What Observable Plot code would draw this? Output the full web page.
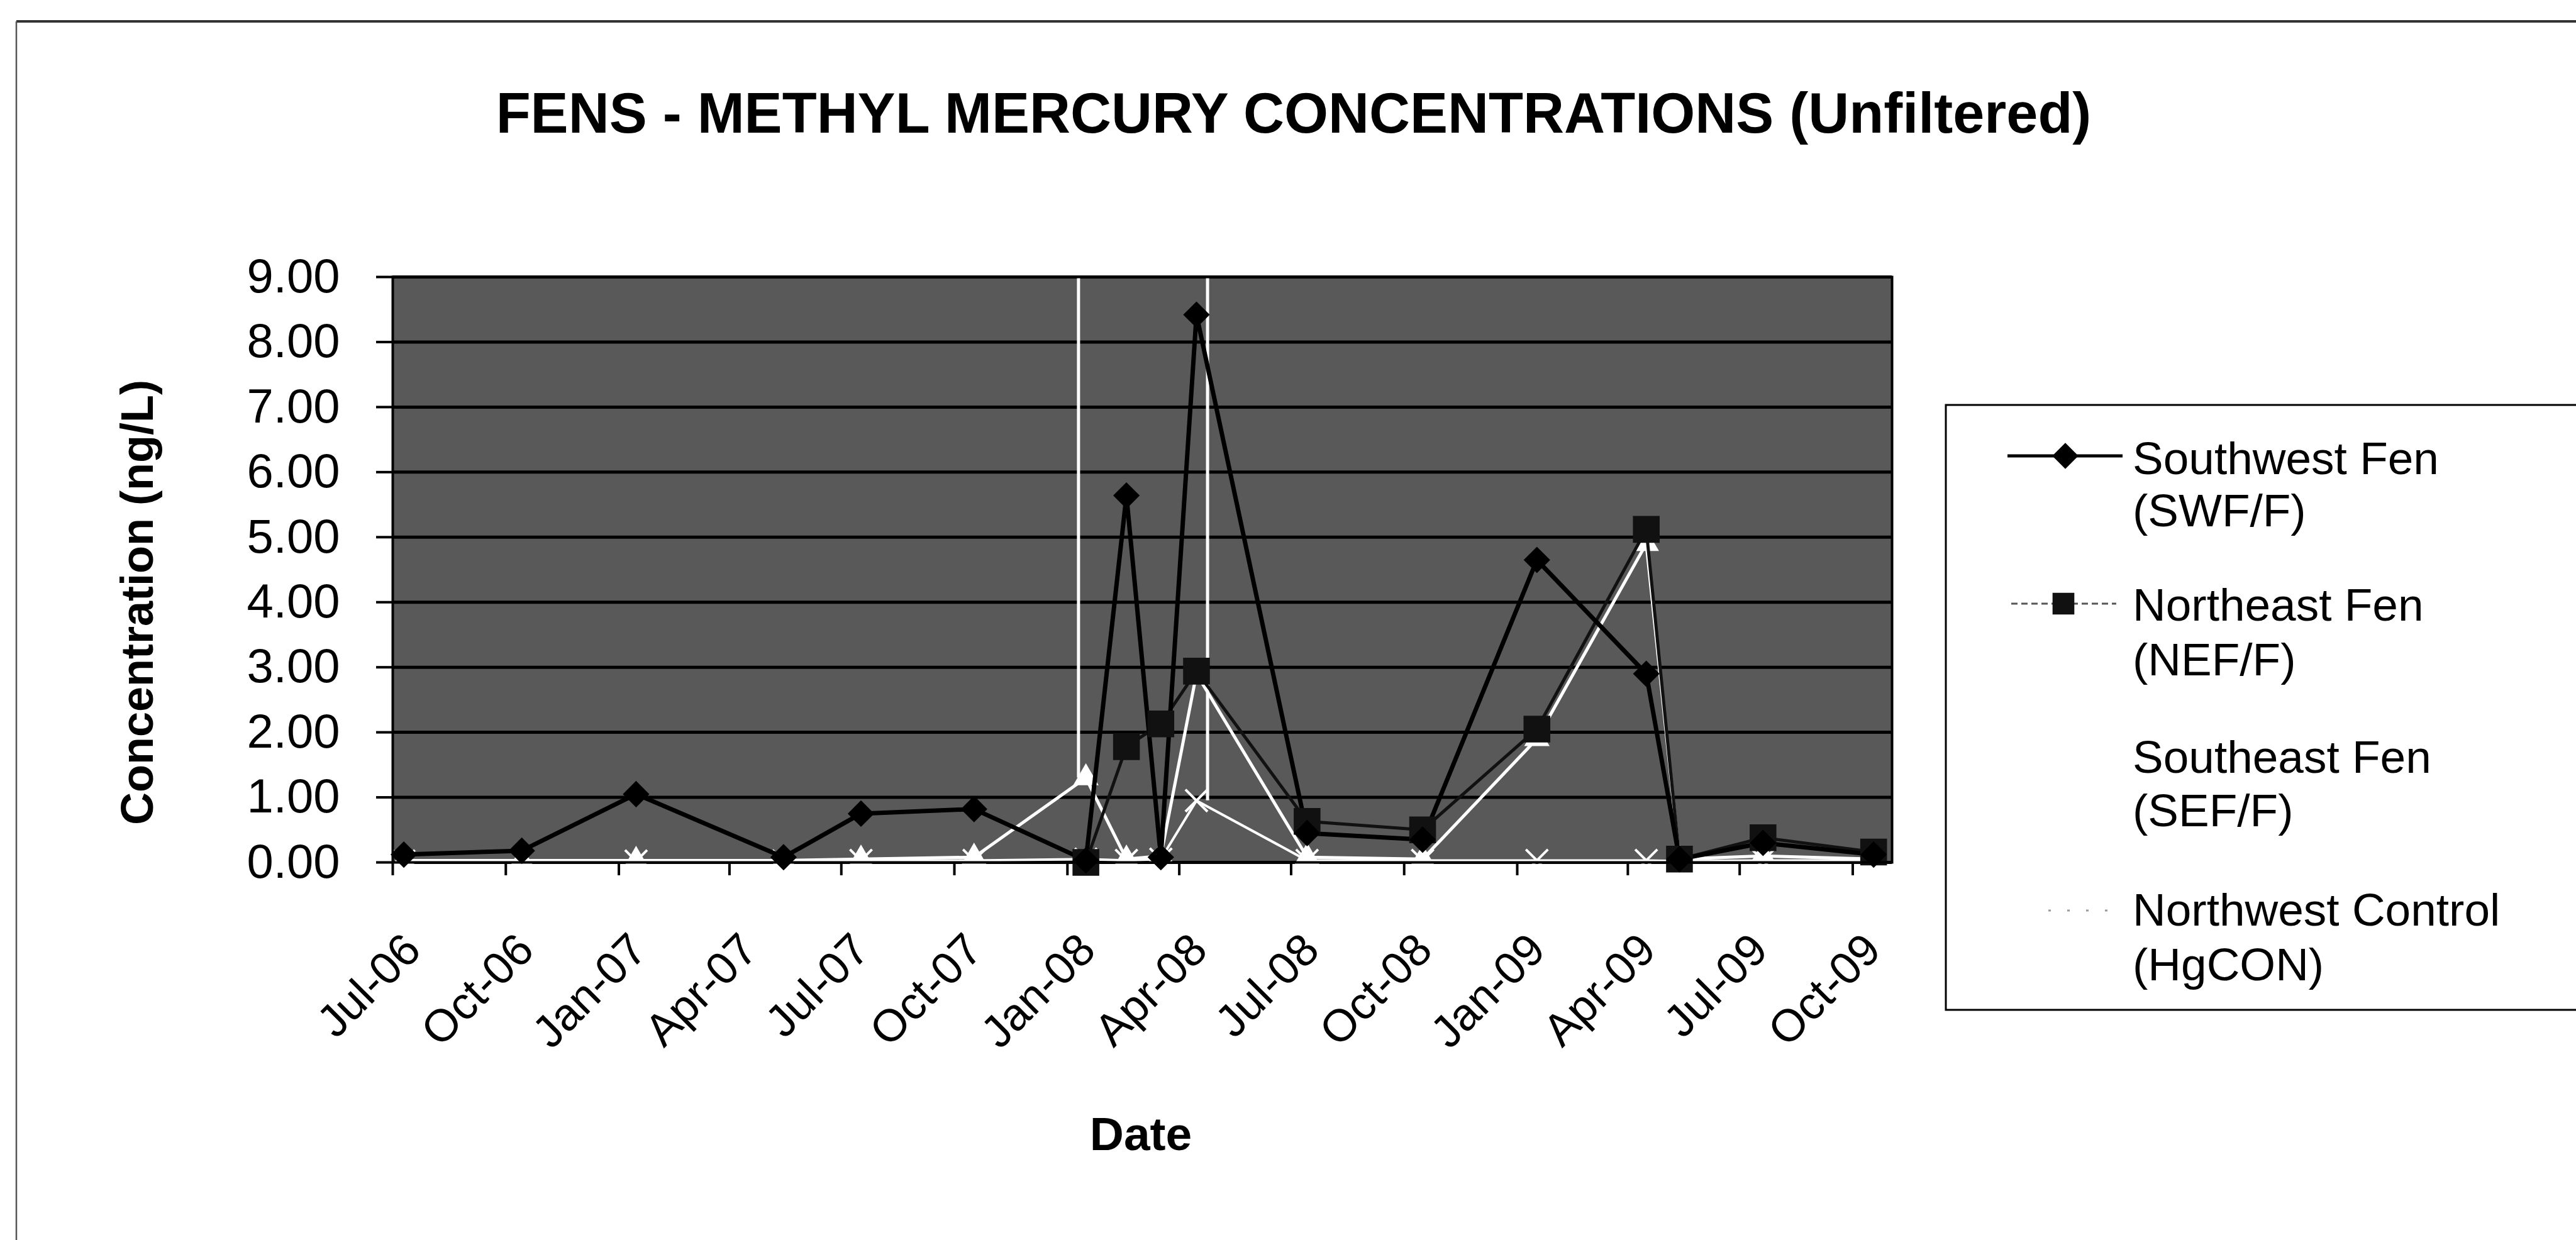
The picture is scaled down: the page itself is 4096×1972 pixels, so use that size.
<!DOCTYPE html>
<html><head><meta charset="utf-8">
<script src="https://cdn.jsdelivr.net/npm/d3@7"></script>
<script src="https://cdn.jsdelivr.net/npm/@observablehq/plot@0.6"></script>
<style>
html,body{margin:0;padding:0;background:#fff;}
#wrap{position:relative;width:4096px;height:1972px;overflow:hidden;font-family:"Liberation Sans",Arial,sans-serif;}
#wrap svg{position:absolute;left:0;top:0;}
</style></head><body><div id="wrap"></div>
<script>
// ---- data ----
const sampleDates = ["2006-07-10","2006-10-14","2007-01-15","2007-05-15","2007-07-17","2007-10-17",
  "2008-01-16","2008-02-18","2008-03-17","2008-04-15","2008-07-14","2008-10-16",
  "2009-01-17","2009-04-16","2009-05-13","2009-07-20","2009-10-18"];
const swf = [0.12,0.18,1.05,0.08,0.75,0.82,0.03,5.64,0.08,8.42,0.45,0.35,4.65,2.90,0.05,0.30,0.12];
const nef = [null,null,null,null,null,null,0.00,1.78,2.13,2.94,0.63,0.50,2.05,5.12,0.05,0.38,0.16];
const sef = [0.03,0.03,0.03,0.03,0.05,0.08,1.30,0.05,0.10,2.90,0.08,0.05,1.90,4.90,0.05,0.10,0.05];
const nwc = [0.02,0.02,0.02,0.02,0.03,0.03,0.05,0.03,0.05,0.95,0.03,0.03,0.03,0.03,0.02,0.03,0.03];
const spikeDates = ["2008-01-10","2008-04-24"];
const spikeBase = [1.30, 0.95];
const tickDates = ["2006-07-01","2006-10-01","2007-01-01","2007-04-01","2007-07-01","2007-10-01",
  "2008-01-01","2008-04-01","2008-07-01","2008-10-01","2009-01-01","2009-04-01","2009-07-01","2009-10-01"];
const tickLabels = ["Jul-06","Oct-06","Jan-07","Apr-07","Jul-07","Oct-07","Jan-08","Apr-08",
  "Jul-08","Oct-08","Jan-09","Apr-09","Jul-09","Oct-09"];
const yTicks = [0,1,2,3,4,5,6,7,8,9];
const xDomain = ["2006-07-01","2009-11-02"];
const legendLines = [["Southwest Fen","(SWF/F)"],["Northeast Fen","(NEF/F)"],["Southeast Fen","(SEF/F)"],["Northwest Control","(HgCON)"]];
const titleText = "FENS - METHYL MERCURY CONCENTRATIONS (Unfiltered)";
const yTitle = "Concentration (ng/L)";
const xTitle = "Date";

// ---- build tables ----
const parse = s => new Date(s + "T00:00:00Z");
const rows = vals => vals.map((v,i)=>({date: parse(sampleDates[i]), value: v})).filter(d=>d.value!=null);
const swfRows = rows(swf), nefRows = rows(nef), sefRows = rows(sef), nwcRows = rows(nwc);
const spikes = spikeDates.map((d,i)=>({date: parse(d), base: spikeBase[i], top: yTicks[yTicks.length-1]}));
const ticks = tickDates.map((d,i)=>({date: parse(d), label: tickLabels[i]}));

const FONT = '"Liberation Sans", Arial, sans-serif';
const W = 4096, H = 1972;

const chart = Plot.plot({
  width: W, height: H,
  marginLeft: 624, marginRight: 1088, marginTop: 440, marginBottom: 601,
  style: {fontFamily: FONT, background: "transparent", color: "#000", overflow: "visible"},
  x: {type: "utc", domain: xDomain.map(parse)},
  y: {domain: [0, 9]},
  marks: [
    Plot.frame({fill: "#595959", stroke: "none"}),
    Plot.ruleY(yTicks, {stroke: "#000", strokeWidth: 5}),
    Plot.ruleX(spikes, {x: "date", y1: "base", y2: "top", stroke: "#fff", strokeWidth: 5}),
    Plot.line(nwcRows, {x: "date", y: "value", stroke: "#fff", strokeWidth: 4}),
    Plot.line(sefRows, {x: "date", y: "value", stroke: "#fff", strokeWidth: 5}),
    Plot.dot(nwcRows, {x: "date", y: "value", symbol: "times", r: 16, stroke: "#fff", strokeWidth: 4, fill: "none"}),
    Plot.dot(sefRows, {x: "date", y: "value", symbol: "triangle", r: 15, fill: "#fff", stroke: "none"}),
    Plot.line(nefRows, {x: "date", y: "value", stroke: "#111", strokeWidth: 5}),
    Plot.line(swfRows, {x: "date", y: "value", stroke: "#000", strokeWidth: 7}),
    Plot.dot(nefRows, {x: "date", y: "value", symbol: "square", r: 24, fill: "#111", stroke: "none"}),
    Plot.dot(swfRows, {x: "date", y: "value", symbol: "diamond2", r: 19, fill: "#000", stroke: "none"}),
    Plot.frame({stroke: "#000", strokeWidth: 4}),
    Plot.axisY(yTicks, {tickFormat: d3.format(".2f"), tickSize: 26, tickPadding: 58, fontSize: 76, strokeWidth: 4, label: null}),
    Plot.axisX(ticks.map(t=>t.date), {tickSize: 21, tickFormat: () => "", strokeWidth: 4, label: null}),
    Plot.text(ticks, {x: "date", y: () => 0, text: "label", rotate: -45, textAnchor: "end", lineAnchor: "middle",
      dx: 32, dy: 127, fontSize: 72, fill: "#000"})
  ]
});
document.getElementById("wrap").appendChild(chart);

// ---- titles, border and legend ----
const ov = d3.select("#wrap").append("svg").attr("width", W).attr("height", H)
  .style("font-family", FONT).style("pointer-events", "none");
// outer chart border (top + left visible)
ov.append("line").attr("x1", 26).attr("x2", W).attr("y1", 34).attr("y2", 34).attr("stroke", "#333").attr("stroke-width", 4);
ov.append("line").attr("x1", 26).attr("x2", 26).attr("y1", 34).attr("y2", H).attr("stroke", "#555").attr("stroke-width", 2.5);

ov.append("text").attr("x", 2057).attr("y", 211).attr("text-anchor", "middle")
  .attr("font-size", 90).attr("font-weight", "bold").text(titleText);
ov.append("text").attr("transform", "translate(243,958) rotate(-90)").attr("text-anchor", "middle")
  .attr("font-size", 72).attr("font-weight", "bold").text(yTitle);
ov.append("text").attr("x", 1814).attr("y", 1829).attr("text-anchor", "middle")
  .attr("font-size", 75).attr("font-weight", "bold").text(xTitle);

// legend box
ov.append("rect").attr("x", 3094).attr("y", 644).attr("width", 1200).attr("height", 962)
  .attr("fill", "#fff").attr("stroke", "#000").attr("stroke-width", 3);
const baselines = [[754, 837], [987, 1074], [1229, 1314], [1472, 1559]];
legendLines.forEach((ls, i) => {
  ls.forEach((t, j) => ov.append("text").attr("x", 3391).attr("y", baselines[i][j]).attr("font-size", 73).text(t));
});
// swatches
ov.append("line").attr("x1", 3192).attr("x2", 3375).attr("y1", 725).attr("y2", 725).attr("stroke", "#000").attr("stroke-width", 5);
ov.append("path").attr("d", d3.symbol(d3.symbolDiamond2, 1100)()).attr("transform", "translate(3284,725)").attr("fill", "#000");
ov.append("line").attr("x1", 3198).attr("x2", 3365).attr("y1", 960).attr("y2", 960).attr("stroke", "#555").attr("stroke-width", 3).attr("stroke-dasharray", "10,6");
ov.append("path").attr("d", d3.symbol(d3.symbolSquare, 1200)()).attr("transform", "translate(3281,960)").attr("fill", "#111");
ov.append("line").attr("x1", 3257).attr("x2", 3351).attr("y1", 1448).attr("y2", 1448).attr("stroke", "#999").attr("stroke-width", 3).attr("stroke-dasharray", "4,26");
</script></body></html>
